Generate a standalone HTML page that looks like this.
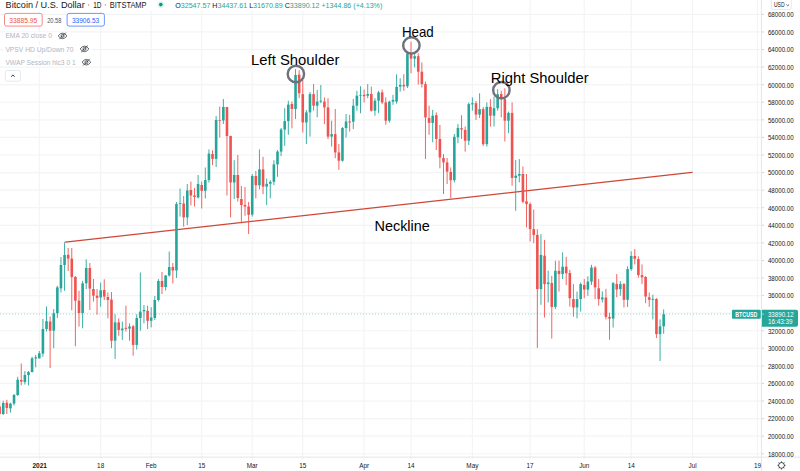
<!DOCTYPE html><html><head><meta charset="utf-8"><style>html,body{margin:0;padding:0;background:#fff;}body{width:800px;height:471px;overflow:hidden;position:relative;font-family:"Liberation Sans",sans-serif;}svg{position:absolute;left:0;top:0;}text{font-family:"Liberation Sans",sans-serif;}</style></head><body>
<svg width="800" height="471" viewBox="0 0 800 471">
<rect x="0" y="0" width="800" height="471" fill="#ffffff"/>
<g stroke="#f3f4f6" stroke-width="1.2"><line x1="0" y1="14.40" x2="761" y2="14.40"/><line x1="0" y1="31.97" x2="761" y2="31.97"/><line x1="0" y1="49.55" x2="761" y2="49.55"/><line x1="0" y1="67.12" x2="761" y2="67.12"/><line x1="0" y1="84.70" x2="761" y2="84.70"/><line x1="0" y1="102.27" x2="761" y2="102.27"/><line x1="0" y1="119.84" x2="761" y2="119.84"/><line x1="0" y1="137.42" x2="761" y2="137.42"/><line x1="0" y1="154.99" x2="761" y2="154.99"/><line x1="0" y1="172.57" x2="761" y2="172.57"/><line x1="0" y1="190.14" x2="761" y2="190.14"/><line x1="0" y1="207.71" x2="761" y2="207.71"/><line x1="0" y1="225.29" x2="761" y2="225.29"/><line x1="0" y1="242.86" x2="761" y2="242.86"/><line x1="0" y1="260.44" x2="761" y2="260.44"/><line x1="0" y1="278.01" x2="761" y2="278.01"/><line x1="0" y1="295.58" x2="761" y2="295.58"/><line x1="0" y1="313.16" x2="761" y2="313.16"/><line x1="0" y1="330.73" x2="761" y2="330.73"/><line x1="0" y1="348.31" x2="761" y2="348.31"/><line x1="0" y1="365.88" x2="761" y2="365.88"/><line x1="0" y1="383.45" x2="761" y2="383.45"/><line x1="0" y1="401.03" x2="761" y2="401.03"/><line x1="0" y1="418.60" x2="761" y2="418.60"/><line x1="0" y1="436.18" x2="761" y2="436.18"/><line x1="0" y1="453.75" x2="761" y2="453.75"/><line x1="39.30" y1="0" x2="39.30" y2="459.5"/><line x1="100.65" y1="0" x2="100.65" y2="459.5"/><line x1="151.18" y1="0" x2="151.18" y2="459.5"/><line x1="201.70" y1="0" x2="201.70" y2="459.5"/><line x1="252.23" y1="0" x2="252.23" y2="459.5"/><line x1="302.76" y1="0" x2="302.76" y2="459.5"/><line x1="364.11" y1="0" x2="364.11" y2="459.5"/><line x1="411.03" y1="0" x2="411.03" y2="459.5"/><line x1="472.38" y1="0" x2="472.38" y2="459.5"/><line x1="530.12" y1="0" x2="530.12" y2="459.5"/><line x1="584.26" y1="0" x2="584.26" y2="459.5"/><line x1="631.18" y1="0" x2="631.18" y2="459.5"/><line x1="692.53" y1="0" x2="692.53" y2="459.5"/><line x1="757.49" y1="0" x2="757.49" y2="459.5"/></g>
<g fill="#ffffff" opacity="0.95"><rect x="0" y="0" width="395" height="11"/><rect x="3" y="32.3" width="67" height="8.8"/><rect x="3" y="44.5" width="89" height="10"/><rect x="3" y="57.5" width="91" height="8.9"/></g>
<line x1="0" y1="314.1" x2="732" y2="314.1" stroke="#26a69a" stroke-width="0.7" stroke-dasharray="1 2" opacity="0.55"/>
<line x1="65.3" y1="242.1" x2="692" y2="172.4" stroke="#cf4637" stroke-width="1.45" stroke-linecap="round"/>
<path d="M3.21 400.70V415.00M10.43 402.70V412.60M14.04 394.00V405.50M17.65 376.80V396.00M24.86 371.00V384.50M28.47 371.00V385.40M32.08 356.80V372.50M35.69 354.90V367.30M39.30 351.00V358.50M42.91 319.00V356.80M46.52 306.50V331.50M53.74 309.00V348.20M57.34 285.80V318.00M60.95 257.00V292.40M64.56 242.50V290.80M82.61 280.80V328.30M86.22 259.40V289.00M100.65 282.60V306.70M115.09 314.30V359.00M122.31 321.60V339.90M129.52 323.30V340.70M136.74 314.30V349.50M140.35 272.50V330.80M143.96 305.00V323.30M151.18 307.20V327.40M154.79 296.00V320.00M158.40 279.10V301.50M165.62 275.00V290.50M169.22 251.50V276.50M176.44 202.00V278.00M180.05 188.50V216.60M187.27 184.00V225.00M198.10 175.00V198.50M205.31 167.50V198.50M208.92 149.40V182.50M216.14 116.00V167.00M223.36 99.00V124.00M234.19 160.20V199.00M252.23 174.00V216.60M259.45 149.40V189.30M266.67 178.50V205.00M270.28 180.20V198.30M273.88 160.20V185.20M277.49 150.00V176.80M281.10 128.00V156.00M284.71 108.20V145.80M288.32 100.70V134.80M295.54 69.10V119.00M306.37 110.00V144.00M309.98 92.00V136.60M317.19 89.90V117.40M320.80 85.00V103.20M331.63 120.70V146.60M342.46 127.00V161.60M346.06 114.00V137.50M353.28 99.00V129.10M356.89 90.80V110.70M360.50 86.30V113.20M367.72 84.10V98.20M374.94 98.20V115.70M378.55 90.80V113.20M389.37 100.70V122.50M392.98 94.90V104.90M396.59 74.30V103.60M400.20 78.30V91.60M407.42 52.40V88.00M414.64 54.10V67.40M432.68 109.90V142.30M454.34 134.00V182.40M457.94 124.00V143.20M468.77 102.40V145.00M472.38 97.40V110.70M479.60 93.30V118.00M486.82 102.40V146.60M494.03 96.60V126.50M497.64 89.10V110.70M508.47 111.60V133.20M515.69 160.00V210.80M519.30 159.10V182.40M540.95 234.10V304.90M548.17 270.70V302.40M555.39 260.70V309.10M562.60 252.40V279.10M577.04 291.60V318.30M580.65 282.50V311.60M587.87 276.30V295.80M591.48 264.80V285.00M602.30 291.40V302.50M613.13 282.00V327.50M620.35 281.10V295.80M627.57 266.30V306.90M631.18 251.30V270.70M652.83 294.80V319.40M660.05 319.40V361.00M663.66 309.40V333.70" stroke="#26a69a" stroke-width="0.9" fill="none"/>
<g fill="#26a69a"><rect x="1.91" y="403.00" width="2.6" height="11.00"/><rect x="9.13" y="403.60" width="2.6" height="4.80"/><rect x="12.74" y="395.00" width="2.6" height="8.60"/><rect x="16.35" y="379.70" width="2.6" height="15.30"/><rect x="23.56" y="375.00" width="2.6" height="7.00"/><rect x="27.17" y="372.00" width="2.6" height="3.00"/><rect x="30.78" y="358.30" width="2.6" height="13.70"/><rect x="34.39" y="357.30" width="2.6" height="1.20"/><rect x="38.00" y="353.30" width="2.6" height="5.00"/><rect x="41.61" y="329.00" width="2.6" height="24.60"/><rect x="45.22" y="321.20" width="2.6" height="7.80"/><rect x="52.44" y="313.20" width="2.6" height="17.50"/><rect x="56.05" y="287.40" width="2.6" height="25.80"/><rect x="59.65" y="265.00" width="2.6" height="23.30"/><rect x="63.26" y="255.00" width="2.6" height="10.00"/><rect x="81.31" y="283.30" width="2.6" height="29.70"/><rect x="84.92" y="268.00" width="2.6" height="15.30"/><rect x="99.35" y="290.30" width="2.6" height="7.10"/><rect x="113.79" y="322.40" width="2.6" height="18.30"/><rect x="121.01" y="328.60" width="2.6" height="1.70"/><rect x="128.22" y="326.50" width="2.6" height="2.10"/><rect x="135.44" y="318.00" width="2.6" height="26.90"/><rect x="139.05" y="311.60" width="2.6" height="6.40"/><rect x="142.66" y="310.00" width="2.6" height="1.30"/><rect x="149.88" y="317.50" width="2.6" height="3.30"/><rect x="153.49" y="300.00" width="2.6" height="18.00"/><rect x="157.10" y="281.00" width="2.6" height="19.00"/><rect x="164.31" y="275.50" width="2.6" height="11.50"/><rect x="167.92" y="267.00" width="2.6" height="8.50"/><rect x="175.14" y="204.00" width="2.6" height="66.50"/><rect x="178.75" y="203.00" width="2.6" height="0.80"/><rect x="185.97" y="190.50" width="2.6" height="26.90"/><rect x="196.80" y="184.00" width="2.6" height="13.50"/><rect x="204.01" y="180.00" width="2.6" height="10.80"/><rect x="207.62" y="153.60" width="2.6" height="26.40"/><rect x="214.84" y="120.00" width="2.6" height="38.90"/><rect x="222.06" y="107.00" width="2.6" height="13.50"/><rect x="232.89" y="175.00" width="2.6" height="7.50"/><rect x="250.93" y="176.00" width="2.6" height="38.60"/><rect x="258.15" y="169.40" width="2.6" height="15.80"/><rect x="265.37" y="183.80" width="2.6" height="2.80"/><rect x="268.98" y="181.80" width="2.6" height="2.00"/><rect x="272.58" y="164.40" width="2.6" height="17.40"/><rect x="276.19" y="151.60" width="2.6" height="12.80"/><rect x="279.80" y="129.50" width="2.6" height="22.10"/><rect x="283.41" y="121.10" width="2.6" height="8.40"/><rect x="287.02" y="104.60" width="2.6" height="16.50"/><rect x="294.24" y="75.00" width="2.6" height="34.00"/><rect x="305.07" y="112.40" width="2.6" height="10.10"/><rect x="308.68" y="94.10" width="2.6" height="18.30"/><rect x="315.89" y="101.60" width="2.6" height="4.10"/><rect x="319.50" y="100.70" width="2.6" height="0.90"/><rect x="330.33" y="134.10" width="2.6" height="2.50"/><rect x="341.16" y="128.00" width="2.6" height="32.70"/><rect x="344.76" y="121.50" width="2.6" height="6.50"/><rect x="351.98" y="105.70" width="2.6" height="16.00"/><rect x="355.59" y="95.70" width="2.6" height="10.00"/><rect x="359.20" y="94.90" width="2.6" height="0.80"/><rect x="366.42" y="94.00" width="2.6" height="1.70"/><rect x="373.64" y="100.70" width="2.6" height="10.00"/><rect x="377.25" y="92.40" width="2.6" height="8.30"/><rect x="388.07" y="101.60" width="2.6" height="19.10"/><rect x="391.68" y="99.90" width="2.6" height="1.70"/><rect x="395.29" y="86.90" width="2.6" height="14.70"/><rect x="398.90" y="84.90" width="2.6" height="1.70"/><rect x="406.12" y="53.30" width="2.6" height="33.00"/><rect x="413.34" y="56.20" width="2.6" height="2.40"/><rect x="431.38" y="115.70" width="2.6" height="7.20"/><rect x="453.04" y="136.80" width="2.6" height="43.40"/><rect x="456.64" y="127.90" width="2.6" height="9.40"/><rect x="467.47" y="104.10" width="2.6" height="36.60"/><rect x="471.08" y="103.20" width="2.6" height="1.20"/><rect x="478.30" y="109.10" width="2.6" height="5.50"/><rect x="485.52" y="106.90" width="2.6" height="37.30"/><rect x="492.73" y="108.20" width="2.6" height="7.50"/><rect x="496.34" y="94.10" width="2.6" height="14.10"/><rect x="507.17" y="112.90" width="2.6" height="7.80"/><rect x="514.39" y="175.70" width="2.6" height="2.20"/><rect x="518.00" y="174.00" width="2.6" height="1.70"/><rect x="539.65" y="254.90" width="2.6" height="34.20"/><rect x="546.87" y="282.50" width="2.6" height="1.60"/><rect x="554.09" y="270.80" width="2.6" height="36.10"/><rect x="561.30" y="266.70" width="2.6" height="7.40"/><rect x="575.74" y="299.10" width="2.6" height="8.30"/><rect x="579.35" y="284.10" width="2.6" height="15.00"/><rect x="586.57" y="281.60" width="2.6" height="8.00"/><rect x="590.18" y="267.50" width="2.6" height="14.10"/><rect x="601.00" y="297.50" width="2.6" height="1.90"/><rect x="611.83" y="283.20" width="2.6" height="35.40"/><rect x="619.05" y="284.10" width="2.6" height="5.00"/><rect x="626.27" y="269.10" width="2.6" height="30.70"/><rect x="629.88" y="256.00" width="2.6" height="13.10"/><rect x="651.53" y="299.00" width="2.6" height="0.80"/><rect x="658.75" y="326.30" width="2.6" height="7.80"/><rect x="662.36" y="314.20" width="2.6" height="12.10"/></g>
<path d="M-0.40 400.70V418.00M6.82 399.80V414.00M21.25 363.50V385.40M50.13 316.50V368.00M68.17 248.00V271.00M71.78 248.00V310.30M75.39 276.00V346.20M79.00 290.80V326.60M89.83 263.00V310.00M93.44 279.00V301.60M97.04 289.00V314.60M104.26 279.30V300.00M107.87 292.40V318.30M111.48 292.00V348.20M118.70 318.30V335.70M125.92 305.70V331.60M133.13 325.00V355.70M147.57 305.70V329.10M162.01 272.00V294.00M172.83 263.00V283.50M183.66 196.00V226.60M190.88 181.50V205.50M194.49 188.00V206.50M201.70 181.50V208.50M212.53 150.20V165.20M219.75 106.50V137.50M226.97 107.00V195.50M230.58 135.60V217.40M237.80 154.90V201.50M241.40 186.00V223.20M245.01 187.00V215.80M248.62 202.00V234.00M255.84 171.00V198.30M263.06 156.90V194.20M291.93 101.60V128.30M299.15 70.30V98.20M302.76 80.00V132.50M313.58 84.10V110.70M324.41 97.40V124.20M328.02 98.20V139.10M335.24 109.00V158.20M338.85 144.10V169.90M349.67 114.90V131.60M364.11 89.60V102.40M371.33 86.60V111.50M382.16 89.60V104.10M385.76 97.40V124.80M403.81 74.10V90.80M411.03 41.60V73.20M418.25 53.30V84.50M421.85 62.40V87.50M425.46 81.60V159.10M429.07 105.70V134.80M436.29 112.40V150.00M439.90 124.90V168.30M443.51 154.10V194.00M447.12 158.00V184.00M450.73 167.40V198.20M461.55 115.20V139.00M465.16 126.50V151.60M475.99 101.00V119.90M483.21 107.00V146.00M490.43 99.10V126.50M501.25 90.80V117.40M504.86 88.30V141.50M512.08 102.40V185.70M522.91 166.60V203.30M526.51 174.00V227.40M530.12 202.50V241.50M533.73 209.60V243.20M537.34 229.10V347.90M544.56 239.90V317.50M551.78 275.80V338.60M559.00 260.70V291.60M566.21 256.80V285.00M569.82 269.80V306.60M573.43 284.10V316.60M584.26 279.10V298.20M595.09 266.00V299.10M598.69 279.10V305.70M605.91 288.90V319.40M609.52 312.80V339.70M616.74 274.10V297.30M623.96 283.00V307.50M634.78 249.00V264.40M638.39 256.30V277.60M642.00 264.40V283.90M645.61 276.00V303.20M649.22 292.50V306.90M656.44 298.10V338.00" stroke="#ef5350" stroke-width="0.9" fill="none"/>
<g fill="#ef5350"><rect x="-1.70" y="406.50" width="2.6" height="7.50"/><rect x="5.52" y="402.70" width="2.6" height="5.30"/><rect x="19.95" y="380.00" width="2.6" height="1.60"/><rect x="48.83" y="321.50" width="2.6" height="9.20"/><rect x="66.87" y="254.80" width="2.6" height="3.80"/><rect x="70.48" y="258.60" width="2.6" height="18.40"/><rect x="74.09" y="277.00" width="2.6" height="23.70"/><rect x="77.70" y="300.70" width="2.6" height="12.30"/><rect x="88.53" y="268.00" width="2.6" height="20.60"/><rect x="92.14" y="289.00" width="2.6" height="6.70"/><rect x="95.74" y="295.70" width="2.6" height="2.20"/><rect x="102.96" y="290.00" width="2.6" height="6.60"/><rect x="106.57" y="297.00" width="2.6" height="3.00"/><rect x="110.18" y="299.60" width="2.6" height="41.10"/><rect x="117.40" y="322.40" width="2.6" height="7.50"/><rect x="124.62" y="327.80" width="2.6" height="1.10"/><rect x="131.83" y="326.30" width="2.6" height="18.60"/><rect x="146.27" y="310.80" width="2.6" height="10.00"/><rect x="160.71" y="281.00" width="2.6" height="6.00"/><rect x="171.53" y="267.00" width="2.6" height="3.50"/><rect x="182.36" y="203.50" width="2.6" height="13.90"/><rect x="189.58" y="190.00" width="2.6" height="5.50"/><rect x="193.19" y="195.50" width="2.6" height="1.50"/><rect x="200.40" y="185.00" width="2.6" height="5.80"/><rect x="211.23" y="154.00" width="2.6" height="4.90"/><rect x="218.45" y="120.00" width="2.6" height="0.80"/><rect x="225.67" y="107.00" width="2.6" height="29.00"/><rect x="229.28" y="136.00" width="2.6" height="46.50"/><rect x="236.50" y="175.00" width="2.6" height="23.00"/><rect x="240.10" y="199.00" width="2.6" height="6.00"/><rect x="243.71" y="205.00" width="2.6" height="1.50"/><rect x="247.32" y="206.50" width="2.6" height="8.40"/><rect x="254.54" y="176.00" width="2.6" height="9.20"/><rect x="261.76" y="169.40" width="2.6" height="17.20"/><rect x="290.63" y="104.00" width="2.6" height="5.00"/><rect x="297.85" y="74.60" width="2.6" height="18.60"/><rect x="301.46" y="94.10" width="2.6" height="28.40"/><rect x="312.28" y="94.10" width="2.6" height="11.60"/><rect x="323.11" y="101.60" width="2.6" height="5.80"/><rect x="326.72" y="107.40" width="2.6" height="29.20"/><rect x="333.94" y="134.10" width="2.6" height="18.30"/><rect x="337.55" y="152.40" width="2.6" height="8.30"/><rect x="348.37" y="121.50" width="2.6" height="1.00"/><rect x="362.81" y="94.90" width="2.6" height="1.30"/><rect x="370.03" y="94.00" width="2.6" height="16.70"/><rect x="380.86" y="92.40" width="2.6" height="10.00"/><rect x="384.46" y="102.40" width="2.6" height="18.30"/><rect x="402.51" y="84.90" width="2.6" height="1.40"/><rect x="409.73" y="53.30" width="2.6" height="5.30"/><rect x="416.94" y="56.20" width="2.6" height="15.50"/><rect x="420.55" y="71.70" width="2.6" height="12.40"/><rect x="424.16" y="84.10" width="2.6" height="33.30"/><rect x="427.77" y="117.90" width="2.6" height="5.00"/><rect x="434.99" y="115.20" width="2.6" height="23.80"/><rect x="438.60" y="139.00" width="2.6" height="18.50"/><rect x="442.21" y="158.00" width="2.6" height="4.40"/><rect x="445.82" y="162.40" width="2.6" height="9.20"/><rect x="449.43" y="171.90" width="2.6" height="8.30"/><rect x="460.25" y="128.20" width="2.6" height="1.30"/><rect x="463.86" y="129.90" width="2.6" height="10.80"/><rect x="474.69" y="103.20" width="2.6" height="11.40"/><rect x="481.91" y="109.10" width="2.6" height="35.10"/><rect x="489.12" y="106.90" width="2.6" height="8.80"/><rect x="499.95" y="94.10" width="2.6" height="5.00"/><rect x="503.56" y="99.10" width="2.6" height="21.60"/><rect x="510.78" y="112.90" width="2.6" height="65.00"/><rect x="521.61" y="174.00" width="2.6" height="27.80"/><rect x="525.22" y="201.30" width="2.6" height="2.80"/><rect x="528.82" y="204.10" width="2.6" height="25.00"/><rect x="532.43" y="229.10" width="2.6" height="5.80"/><rect x="536.04" y="234.90" width="2.6" height="54.20"/><rect x="543.26" y="255.70" width="2.6" height="28.40"/><rect x="550.48" y="283.00" width="2.6" height="23.90"/><rect x="557.70" y="270.80" width="2.6" height="3.30"/><rect x="564.91" y="266.70" width="2.6" height="6.60"/><rect x="568.52" y="273.00" width="2.6" height="25.20"/><rect x="572.13" y="299.10" width="2.6" height="8.30"/><rect x="582.96" y="285.00" width="2.6" height="4.60"/><rect x="593.79" y="267.50" width="2.6" height="19.90"/><rect x="597.39" y="288.30" width="2.6" height="10.80"/><rect x="604.61" y="297.50" width="2.6" height="19.40"/><rect x="608.22" y="316.90" width="2.6" height="1.70"/><rect x="615.44" y="283.90" width="2.6" height="5.60"/><rect x="622.66" y="284.10" width="2.6" height="15.70"/><rect x="633.49" y="256.00" width="2.6" height="2.80"/><rect x="637.09" y="259.00" width="2.6" height="16.10"/><rect x="640.70" y="275.10" width="2.6" height="2.20"/><rect x="644.31" y="277.00" width="2.6" height="19.50"/><rect x="647.92" y="297.30" width="2.6" height="2.50"/><rect x="655.14" y="299.00" width="2.6" height="35.10"/></g>
<circle cx="295.9" cy="74.0" r="8.2" fill="none" stroke="#6e717b" stroke-width="2.4"/>
<circle cx="411.4" cy="45.4" r="8.2" fill="none" stroke="#6e717b" stroke-width="2.4"/>
<circle cx="501.4" cy="90.2" r="8.2" fill="none" stroke="#6e717b" stroke-width="2.4"/>
<text transform="translate(251.00,64.50) scale(1.0780,1)" font-size="13.8" fill="#000" font-weight="normal">Left Shoulder</text>
<text transform="translate(401.90,36.80) scale(0.9668,1)" font-size="13.8" fill="#000" font-weight="normal">Head</text>
<text transform="translate(490.80,82.70) scale(1.0724,1)" font-size="13.8" fill="#000" font-weight="normal">Right Shoulder</text>
<text transform="translate(374.50,230.70) scale(1.0468,1)" font-size="13.8" fill="#000" font-weight="normal">Neckline</text>
<line x1="761.4" y1="0" x2="761.4" y2="471" stroke="#e3e5ea" stroke-width="1"/>
<line x1="0" y1="457.1" x2="800" y2="457.1" stroke="#e3e5ea" stroke-width="1"/>
<line x1="762" y1="14.40" x2="764" y2="14.40" stroke="#c8cad0" stroke-width="0.8"/>
<text transform="translate(767.90,17.25) scale(0.8591,1)" font-size="7.2" fill="#131722" font-weight="normal">68000.00</text>
<line x1="762" y1="31.97" x2="764" y2="31.97" stroke="#c8cad0" stroke-width="0.8"/>
<text transform="translate(767.90,34.82) scale(0.8591,1)" font-size="7.2" fill="#131722" font-weight="normal">66000.00</text>
<line x1="762" y1="49.55" x2="764" y2="49.55" stroke="#c8cad0" stroke-width="0.8"/>
<text transform="translate(767.90,52.40) scale(0.8591,1)" font-size="7.2" fill="#131722" font-weight="normal">64000.00</text>
<line x1="762" y1="67.12" x2="764" y2="67.12" stroke="#c8cad0" stroke-width="0.8"/>
<text transform="translate(767.90,69.97) scale(0.8591,1)" font-size="7.2" fill="#131722" font-weight="normal">62000.00</text>
<line x1="762" y1="84.70" x2="764" y2="84.70" stroke="#c8cad0" stroke-width="0.8"/>
<text transform="translate(767.90,87.55) scale(0.8591,1)" font-size="7.2" fill="#131722" font-weight="normal">60000.00</text>
<line x1="762" y1="102.27" x2="764" y2="102.27" stroke="#c8cad0" stroke-width="0.8"/>
<text transform="translate(767.90,105.12) scale(0.8591,1)" font-size="7.2" fill="#131722" font-weight="normal">58000.00</text>
<line x1="762" y1="119.84" x2="764" y2="119.84" stroke="#c8cad0" stroke-width="0.8"/>
<text transform="translate(767.90,122.69) scale(0.8591,1)" font-size="7.2" fill="#131722" font-weight="normal">56000.00</text>
<line x1="762" y1="137.42" x2="764" y2="137.42" stroke="#c8cad0" stroke-width="0.8"/>
<text transform="translate(767.90,140.27) scale(0.8591,1)" font-size="7.2" fill="#131722" font-weight="normal">54000.00</text>
<line x1="762" y1="154.99" x2="764" y2="154.99" stroke="#c8cad0" stroke-width="0.8"/>
<text transform="translate(767.90,157.84) scale(0.8591,1)" font-size="7.2" fill="#131722" font-weight="normal">52000.00</text>
<line x1="762" y1="172.57" x2="764" y2="172.57" stroke="#c8cad0" stroke-width="0.8"/>
<text transform="translate(767.90,175.42) scale(0.8591,1)" font-size="7.2" fill="#131722" font-weight="normal">50000.00</text>
<line x1="762" y1="190.14" x2="764" y2="190.14" stroke="#c8cad0" stroke-width="0.8"/>
<text transform="translate(767.90,192.99) scale(0.8591,1)" font-size="7.2" fill="#131722" font-weight="normal">48000.00</text>
<line x1="762" y1="207.71" x2="764" y2="207.71" stroke="#c8cad0" stroke-width="0.8"/>
<text transform="translate(767.90,210.56) scale(0.8591,1)" font-size="7.2" fill="#131722" font-weight="normal">46000.00</text>
<line x1="762" y1="225.29" x2="764" y2="225.29" stroke="#c8cad0" stroke-width="0.8"/>
<text transform="translate(767.90,228.14) scale(0.8591,1)" font-size="7.2" fill="#131722" font-weight="normal">44000.00</text>
<line x1="762" y1="242.86" x2="764" y2="242.86" stroke="#c8cad0" stroke-width="0.8"/>
<text transform="translate(767.90,245.71) scale(0.8591,1)" font-size="7.2" fill="#131722" font-weight="normal">42000.00</text>
<line x1="762" y1="260.44" x2="764" y2="260.44" stroke="#c8cad0" stroke-width="0.8"/>
<text transform="translate(767.90,263.29) scale(0.8591,1)" font-size="7.2" fill="#131722" font-weight="normal">40000.00</text>
<line x1="762" y1="278.01" x2="764" y2="278.01" stroke="#c8cad0" stroke-width="0.8"/>
<text transform="translate(767.90,280.86) scale(0.8591,1)" font-size="7.2" fill="#131722" font-weight="normal">38000.00</text>
<line x1="762" y1="295.58" x2="764" y2="295.58" stroke="#c8cad0" stroke-width="0.8"/>
<text transform="translate(767.90,298.43) scale(0.8591,1)" font-size="7.2" fill="#131722" font-weight="normal">36000.00</text>
<line x1="762" y1="313.16" x2="764" y2="313.16" stroke="#c8cad0" stroke-width="0.8"/>
<text transform="translate(767.90,316.01) scale(0.8591,1)" font-size="7.2" fill="#131722" font-weight="normal">34000.00</text>
<line x1="762" y1="330.73" x2="764" y2="330.73" stroke="#c8cad0" stroke-width="0.8"/>
<text transform="translate(767.90,333.58) scale(0.8591,1)" font-size="7.2" fill="#131722" font-weight="normal">32000.00</text>
<line x1="762" y1="348.31" x2="764" y2="348.31" stroke="#c8cad0" stroke-width="0.8"/>
<text transform="translate(767.90,351.16) scale(0.8591,1)" font-size="7.2" fill="#131722" font-weight="normal">30000.00</text>
<line x1="762" y1="365.88" x2="764" y2="365.88" stroke="#c8cad0" stroke-width="0.8"/>
<text transform="translate(767.90,368.73) scale(0.8591,1)" font-size="7.2" fill="#131722" font-weight="normal">28000.00</text>
<line x1="762" y1="383.45" x2="764" y2="383.45" stroke="#c8cad0" stroke-width="0.8"/>
<text transform="translate(767.90,386.30) scale(0.8591,1)" font-size="7.2" fill="#131722" font-weight="normal">26000.00</text>
<line x1="762" y1="401.03" x2="764" y2="401.03" stroke="#c8cad0" stroke-width="0.8"/>
<text transform="translate(767.90,403.88) scale(0.8591,1)" font-size="7.2" fill="#131722" font-weight="normal">24000.00</text>
<line x1="762" y1="418.60" x2="764" y2="418.60" stroke="#c8cad0" stroke-width="0.8"/>
<text transform="translate(767.90,421.45) scale(0.8591,1)" font-size="7.2" fill="#131722" font-weight="normal">22000.00</text>
<line x1="762" y1="436.18" x2="764" y2="436.18" stroke="#c8cad0" stroke-width="0.8"/>
<text transform="translate(767.90,439.03) scale(0.8591,1)" font-size="7.2" fill="#131722" font-weight="normal">20000.00</text>
<line x1="762" y1="453.75" x2="764" y2="453.75" stroke="#c8cad0" stroke-width="0.8"/>
<text transform="translate(767.90,456.60) scale(0.8591,1)" font-size="7.2" fill="#131722" font-weight="normal">18000.00</text>
<text transform="translate(32.40,468.20) scale(0.8867,1)" font-size="7.4" fill="#131722" font-weight="bold">2021</text>
<text transform="translate(97.11,468.20) scale(0.8600,1)" font-size="7.4" fill="#131722" font-weight="normal">18</text>
<text transform="translate(145.70,468.20) scale(0.8600,1)" font-size="7.4" fill="#131722" font-weight="normal">Feb</text>
<text transform="translate(198.17,468.20) scale(0.8600,1)" font-size="7.4" fill="#131722" font-weight="normal">15</text>
<text transform="translate(246.75,468.20) scale(0.8600,1)" font-size="7.4" fill="#131722" font-weight="normal">Mar</text>
<text transform="translate(299.22,468.20) scale(0.8600,1)" font-size="7.4" fill="#131722" font-weight="normal">15</text>
<text transform="translate(359.16,468.20) scale(0.8600,1)" font-size="7.4" fill="#131722" font-weight="normal">Apr</text>
<text transform="translate(407.49,468.20) scale(0.8600,1)" font-size="7.4" fill="#131722" font-weight="normal">14</text>
<text transform="translate(466.37,468.20) scale(0.8600,1)" font-size="7.4" fill="#131722" font-weight="normal">May</text>
<text transform="translate(526.59,468.20) scale(0.8600,1)" font-size="7.4" fill="#131722" font-weight="normal">17</text>
<text transform="translate(579.13,468.20) scale(0.8600,1)" font-size="7.4" fill="#131722" font-weight="normal">Jun</text>
<text transform="translate(627.64,468.20) scale(0.8600,1)" font-size="7.4" fill="#131722" font-weight="normal">14</text>
<text transform="translate(688.46,468.20) scale(0.8600,1)" font-size="7.4" fill="#131722" font-weight="normal">Jul</text>
<text transform="translate(753.95,468.20) scale(0.8600,1)" font-size="7.4" fill="#131722" font-weight="normal">19</text>
<rect x="732" y="309.8" width="28.8" height="9" rx="1" fill="#26a69a"/>
<text transform="translate(735.20,316.90) scale(0.8108,1)" font-size="6.6" fill="#ffffff" font-weight="bold">BTCUSD</text>
<path d="M761.9 309.7H796.2Q798 309.7 798 311.5V324.9Q798 326.7 796.2 326.7H761.9Z" fill="#26a69a"/>
<line x1="762.3" y1="314.1" x2="763.8" y2="314.1" stroke="#ffffff" stroke-width="0.7"/>
<text transform="translate(767.90,317.00) scale(0.8591,1)" font-size="7.2" fill="#ffffff" font-weight="normal">33890.12</text>
<text transform="translate(767.90,324.40) scale(0.8812,1)" font-size="7.2" fill="#ffffff" font-weight="normal">16:43:39</text>
<rect x="771.3" y="-3" width="20" height="12.6" rx="2" fill="#fff" stroke="#e0e3eb" stroke-width="0.8"/>
<text transform="translate(773.90,7.00) scale(0.7040,1)" font-size="7.2" fill="#131722" font-weight="normal">USD</text>
<path d="M786.4 4.6 L787.7 5.8 L789.0 4.6" stroke="#131722" stroke-width="0.7" fill="none"/>
<g transform="translate(781.5,465.4)" stroke="#131722" stroke-width="0.75" fill="none"><circle r="2.9"/><path d="M0 -4V-2.9M0 2.9V4M-4 0H-2.9M2.9 0H4M-2.85 -2.85L-2.05 -2.05M2.05 2.05L2.85 2.85M-2.85 2.85L-2.05 2.05M2.05 -2.05L2.85 -2.85"/></g>
<text transform="translate(5.60,7.80) scale(1.0040,1)" font-size="9.1" fill="#131722" font-weight="normal">Bitcoin / U.S. Dollar</text>
<circle cx="88.4" cy="4.9" r="0.55" fill="#787b86"/><circle cx="105.3" cy="4.9" r="0.55" fill="#787b86"/>
<text transform="translate(93.20,7.80) scale(0.7137,1)" font-size="9.1" fill="#131722" font-weight="normal">1D</text>
<text transform="translate(109.80,7.80) scale(0.8209,1)" font-size="9.1" fill="#131722" font-weight="normal">BITSTAMP</text>
<circle cx="160.8" cy="4.6" r="3.4" fill="#26a69a" opacity="0.16"/><circle cx="160.8" cy="4.6" r="1.8" fill="#089981"/>
<text transform="translate(175.20,7.8) scale(0.9126,1)" font-size="7.8" fill="#131722"><tspan fill="#131722">O</tspan><tspan fill="#26a69a">32547.57 </tspan><tspan fill="#131722">H</tspan><tspan fill="#26a69a">34437.61 </tspan><tspan fill="#131722">L</tspan><tspan fill="#26a69a">31670.89 </tspan><tspan fill="#131722">C</tspan><tspan fill="#26a69a">33890.12 </tspan><tspan fill="#26a69a">+1344.86 (+4.13%)</tspan></text>
<rect x="4.5" y="13.4" width="37.7" height="12.7" rx="2" fill="#fff" stroke="#ef5350" stroke-width="0.8" stroke-opacity="0.85"/>
<text transform="translate(9.30,22.70) scale(0.8421,1)" font-size="8.0" fill="#ef5350" font-weight="normal">33885.95</text>
<text transform="translate(47.20,22.90) scale(0.8660,1)" font-size="6.6" fill="#50535e" font-weight="normal">20.58</text>
<rect x="67.1" y="13.4" width="37.3" height="12.7" rx="2" fill="#fff" stroke="#2962ff" stroke-width="0.8" stroke-opacity="0.85"/>
<text transform="translate(71.90,22.70) scale(0.8211,1)" font-size="8.0" fill="#2962ff" font-weight="normal">33906.53</text>
<text transform="translate(5.40,38.25) scale(0.9168,1)" font-size="7.3" fill="#b2b5be" font-weight="normal">EMA 20 close 0</text>
<g transform="translate(62.6,35.9)" stroke="#131722" stroke-width="0.65" fill="none"><path d="M-4.4 0Q0 -5.6 4.4 0Q0 5.6 -4.4 0Z"/><circle r="1.5"/><path d="M-3.3 3.3L3.3 -3.3"/></g>
<text transform="translate(5.40,51.75) scale(0.9185,1)" font-size="7.3" fill="#b2b5be" font-weight="normal">VPSV HD Up/Down 70</text>
<g transform="translate(84.5,48.9)" stroke="#131722" stroke-width="0.65" fill="none"><path d="M-4.4 0Q0 -5.6 4.4 0Q0 5.6 -4.4 0Z"/><circle r="1.5"/><path d="M-3.3 3.3L3.3 -3.3"/></g>
<text transform="translate(5.40,64.90) scale(0.9187,1)" font-size="7.3" fill="#b2b5be" font-weight="normal">VWAP Session hlc3 0 1</text>
<g transform="translate(86.4,62.2)" stroke="#131722" stroke-width="0.65" fill="none"><path d="M-4.4 0Q0 -5.6 4.4 0Q0 5.6 -4.4 0Z"/><circle r="1.5"/><path d="M-3.3 3.3L3.3 -3.3"/></g>
<rect x="5.3" y="70.5" width="15.2" height="10.7" rx="1.5" fill="#fff" stroke="#e0e3eb" stroke-width="0.8"/>
<path d="M11.2 76.7L12.9 75.0L14.6 76.7" stroke="#131722" stroke-width="0.9" fill="none"/>
</svg></body></html>
